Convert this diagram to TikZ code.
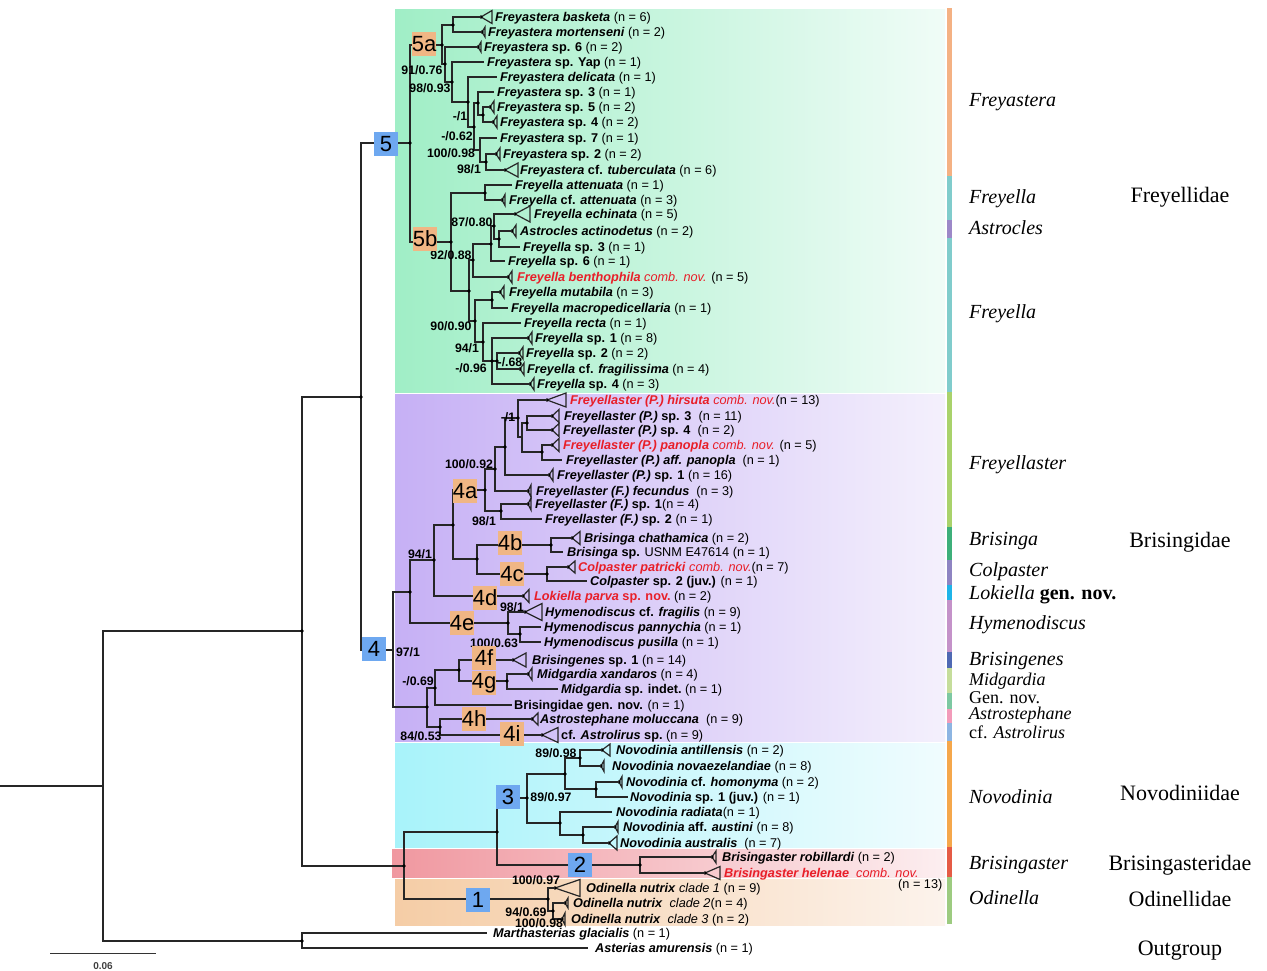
\documentclass[tikz,border=0pt]{standalone}
\usepackage{fontspec}
\setmainfont{Liberation Serif}
\setsansfont{Liberation Sans}

\newcommand{\spn}[1]{\textbf{\textit{#1}}}
\newcommand{\ncnt}[1]{(n = #1)}
% collapsed clade: triangle with a dot at its apex
\newcommand{\colltri}[3]{%
  \draw[branch] (#1) -- ++(#2,-#3/2) -- ++(0,#3) -- cycle;
  \fill (#1) circle (1.8pt);}

\begin{document}
\begin{tikzpicture}[x=1pt,y=-1pt,
    branch/.style={line width=1.2pt, black!85},
    tiplbl/.style={anchor=west, inner sep=0pt, text height=9pt, text depth=0pt, font=\sffamily\fontsize{12.7}{13}\selectfont},
    support/.style={inner sep=0pt, font=\sffamily\bfseries\fontsize{12.3}{13}\selectfont},
    cladebox/.style={minimum width=24pt, minimum height=24pt, inner sep=0pt, font=\sffamily\fontsize{22}{22}\selectfont},
    genlbl/.style={anchor=west, inner sep=0pt, text height=13pt, text depth=0pt, font=\fontsize{20}{20}\selectfont\itshape},
    gensmall/.style={genlbl, text height=12pt, font=\fontsize{18}{18}\selectfont\itshape},
    famlbl/.style={inner sep=0pt, text height=14pt, text depth=0pt, font=\fontsize{22}{22}\selectfont}]

    \definecolor{nred}{RGB}{232,30,40}
    \definecolor{boxblue}{RGB}{110,168,240}
    \definecolor{boxorange}{RGB}{240,182,132}
    % band colours
    \definecolor{greenl}{RGB}{160,238,198}  \definecolor{greenr}{RGB}{240,252,247}
    \definecolor{purpl}{RGB}{198,176,245}   \definecolor{purpr}{RGB}{244,240,252}
    \definecolor{cyanl}{RGB}{168,243,250}   \definecolor{cyanr}{RGB}{240,252,254}
    \definecolor{pinkl}{RGB}{240,152,160}   \definecolor{pinkr}{RGB}{252,238,240}
    \definecolor{peachl}{RGB}{245,205,166}  \definecolor{peachr}{RGB}{252,243,236}
    % genus bar colours
    \definecolor{cfreyas}{RGB}{244,177,131}
    \definecolor{cfreyel}{RGB}{128,204,204}
    \definecolor{castroc}{RGB}{156,136,200}
    \definecolor{cfreyla}{RGB}{169,210,107}
    \definecolor{cbrisin}{RGB}{61,175,122}
    \definecolor{ccolpa}{RGB}{142,132,194}
    \definecolor{cloki}{RGB}{31,180,232}
    \definecolor{chymen}{RGB}{196,146,201}
    \definecolor{cbrgen}{RGB}{79,105,179}
    \definecolor{cmidg}{RGB}{197,221,155}
    \definecolor{cgennov}{RGB}{125,200,162}
    \definecolor{castrost}{RGB}{242,155,186}
    \definecolor{castrol}{RGB}{141,181,226}
    \definecolor{cnovod}{RGB}{245,167,75}
    \definecolor{cbrgast}{RGB}{229,91,69}
    \definecolor{codin}{RGB}{157,203,128}

    \useasboundingbox (0,0) rectangle (1267,971);
    \fill[white] (0,0) rectangle (1267,971);

    % Draw the coloured clade bands
    \shade[left color=greenl, right color=greenr] (395,10) rectangle (945,392);
    \shade[left color=purpl, right color=purpr] (395,394) rectangle (945,741);
    \shade[left color=cyanl, right color=cyanr] (395,743) rectangle (945,847);
    \shade[left color=pinkl, right color=pinkr] (392,849) rectangle (945,877);
    \shade[left color=peachl, right color=peachr] (395,879) rectangle (945,925);

    % Draw the genus bar
    \fill[cfreyas] (947,8) rectangle (952,176);
    \fill[cfreyel] (947,176) rectangle (952,220);
    \fill[castroc] (947,220) rectangle (952,238);
    \fill[cfreyel] (947,238) rectangle (952,392);
    \fill[cfreyla] (947,392) rectangle (952,527);
    \fill[cbrisin] (947,527) rectangle (952,560);
    \fill[ccolpa] (947,560) rectangle (952,585);
    \fill[cloki] (947,585) rectangle (952,600);
    \fill[chymen] (947,600) rectangle (952,652);
    \fill[cbrgen] (947,652) rectangle (952,668);
    \fill[cmidg] (947,668) rectangle (952,693);
    \fill[cgennov] (947,693) rectangle (952,709);
    \fill[castrost] (947,709) rectangle (952,723);
    \fill[castrol] (947,723) rectangle (952,741);
    \fill[cnovod] (947,741) rectangle (952,847);
    \fill[cbrgast] (947,847) rectangle (952,877);
    \fill[codin] (947,877) rectangle (952,924);

    % Draw the tips of Freyastera
    \coordinate (t1) at (481,17); \colltri{t1}{11}{13} \node[tiplbl] (t1l) at (495,17) {\spn{Freyastera basketa}\ \ncnt{6}};
    \coordinate (t2) at (482,32); \colltri{t2}{3}{10} \node[tiplbl] (t2l) at (488,32) {\spn{Freyastera mortenseni}\ \ncnt{2}};
    \coordinate (t3) at (478,47); \colltri{t3}{3}{10} \node[tiplbl] (t3l) at (484,47) {\spn{Freyastera} \textbf{sp. 6}\ \ncnt{2}};
    \coordinate (t4) at (484,62); \node[tiplbl] (t4l) at (487,62) {\spn{Freyastera} \textbf{sp. Yap}\ \ncnt{1}};
    \coordinate (t5) at (497,77); \node[tiplbl] (t5l) at (500,77) {\spn{Freyastera delicata}\ \ncnt{1}};
    \coordinate (t6) at (494,92); \node[tiplbl] (t6l) at (497,92) {\spn{Freyastera} \textbf{sp. 3}\ \ncnt{1}};
    \coordinate (t7) at (490,107); \colltri{t7}{4}{12} \node[tiplbl] (t7l) at (497,107) {\spn{Freyastera} \textbf{sp. 5}\ \ncnt{2}};
    \coordinate (t8) at (493,122); \colltri{t8}{4}{12} \node[tiplbl] (t8l) at (500,122) {\spn{Freyastera} \textbf{sp. 4} \ncnt{2}};
    \coordinate (t9) at (497,138); \node[tiplbl] (t9l) at (500,138) {\spn{Freyastera} \textbf{sp. 7}\ \ncnt{1}};
    \coordinate (t10) at (496,154); \colltri{t10}{4}{12} \node[tiplbl] (t10l) at (503,154) {\spn{Freyastera} \textbf{sp. 2}\ \ncnt{2}};
    \coordinate (t11) at (505,170); \colltri{t11}{13}{14} \node[tiplbl] (t11l) at (520,170) {\spn{Freyastera} \textbf{cf.} \spn{tuberculata}\ \ncnt{6}};

    % Draw the tips of Freyella and Astrocles
    \coordinate (t12) at (512,185); \node[tiplbl] (t12l) at (515,185) {\spn{Freyella attenuata} \ncnt{1}};
    \coordinate (t13) at (502,200); \colltri{t13}{3}{11} \node[tiplbl] (t13l) at (509,200) {\spn{Freyella} \textbf{cf.} \spn{attenuata}\ \ncnt{3}};
    \coordinate (t14) at (515,214); \colltri{t14}{15}{16} \node[tiplbl] (t14l) at (534,214) {\spn{Freyella echinata}\ \ncnt{5}};
    \coordinate (t15) at (512,231); \colltri{t15}{4}{12} \node[tiplbl] (t15l) at (520,231) {\spn{Astrocles actinodetus}\ \ncnt{2}};
    \coordinate (t16) at (520,247); \node[tiplbl] (t16l) at (523,247) {\spn{Freyella} \textbf{sp. 3}\ \ncnt{1}};
    \coordinate (t17) at (505,261); \node[tiplbl] (t17l) at (508,261) {\spn{Freyella} \textbf{sp. 6} \ncnt{1}};
    \coordinate (t18) at (508,277); \colltri{t18}{4}{12} \node[tiplbl] (t18l) at (517,277) {\textcolor{nred}{\spn{Freyella benthophila} \textit{comb. nov.}} \ncnt{5}};
    \coordinate (t19) at (500,292); \colltri{t19}{4}{12} \node[tiplbl] (t19l) at (509,292) {\spn{Freyella mutabila} \ncnt{3}};
    \coordinate (t20) at (508,308); \node[tiplbl] (t20l) at (511,308) {\spn{Freyella macropedicellaria} \ncnt{1}};
    \coordinate (t21) at (521,323); \node[tiplbl] (t21l) at (524,323) {\spn{Freyella recta} \ncnt{1}};
    \coordinate (t22) at (528,338); \colltri{t22}{4}{12} \node[tiplbl] (t22l) at (535,338) {\spn{Freyella} \textbf{sp. 1} \ncnt{8}};
    \coordinate (t23) at (519,353); \colltri{t23}{4}{12} \node[tiplbl] (t23l) at (526,353) {\spn{Freyella} \textbf{sp. 2} \ncnt{2}};
    \coordinate (t24) at (520,369); \colltri{t24}{4}{12} \node[tiplbl] (t24l) at (527,369) {\spn{Freyella} \textbf{cf.} \spn{fragilissima} \ncnt{4}};
    \coordinate (t25) at (530,384); \colltri{t25}{4}{12} \node[tiplbl] (t25l) at (537,384) {\spn{Freyella} \textbf{sp. 4} \ncnt{3}};

    % Draw the tips of Brisingidae
    \coordinate (t26) at (547,400); \colltri{t26}{19}{14} \node[tiplbl] (t26l) at (570,400) {\textcolor{nred}{\spn{Freyellaster (P.) hirsuta} \textit{comb. nov.}}\ncnt{13}};
    \coordinate (t27) at (552,416); \colltri{t27}{7}{13} \node[tiplbl] (t27l) at (564,416) {\spn{Freyellaster (P.)} \textbf{sp. 3}\ \ \ncnt{11}};
    \coordinate (t28) at (552,430); \colltri{t28}{7}{13} \node[tiplbl] (t28l) at (563,430) {\spn{Freyellaster (P.)} \textbf{sp. 4}\ \ \ncnt{2}};
    \coordinate (t29) at (552,445); \colltri{t29}{7}{13} \node[tiplbl] (t29l) at (563,445) {\textcolor{nred}{\spn{Freyellaster (P.) panopla} \textit{comb. nov.}} \ncnt{5}};
    \coordinate (t30) at (562,460); \node[tiplbl] (t30l) at (566,460) {\spn{Freyellaster (P.) aff. panopla}\ \ \ncnt{1}};
    \coordinate (t31) at (549,475); \colltri{t31}{4}{12} \node[tiplbl] (t31l) at (557,475) {\spn{Freyellaster (P.)} \textbf{sp. 1} \ncnt{16}};
    \coordinate (t32) at (528,491); \colltri{t32}{3}{12} \node[tiplbl] (t32l) at (536,491) {\spn{Freyellaster (F.) fecundus}\ \ \ncnt{3}};
    \coordinate (t33) at (528,504); \colltri{t33}{3}{12} \node[tiplbl] (t33l) at (535,504) {\spn{Freyellaster (F.)} \textbf{sp. 1}\ncnt{4}};
    \coordinate (t34) at (542,519); \node[tiplbl] (t34l) at (545,519) {\spn{Freyellaster (F.)} \textbf{sp. 2} \ncnt{1}};
    \coordinate (t35) at (572,538); \colltri{t35}{8}{13} \node[tiplbl] (t35l) at (584,538) {\spn{Brisinga chathamica}\ \ncnt{2}};
    \coordinate (t36) at (563,552); \node[tiplbl] (t36l) at (567,552) {\spn{Brisinga} \textbf{sp.} USNM E47614 \ncnt{1}};
    \coordinate (t37) at (568,567); \colltri{t37}{7}{12} \node[tiplbl] (t37l) at (578,567) {\textcolor{nred}{\spn{Colpaster patricki} \textit{comb. nov.}}\ncnt{7}};
    \coordinate (t38) at (587,581); \node[tiplbl] (t38l) at (590,581) {\spn{Colpaster} \textbf{sp. 2 (juv.)} \ncnt{1}};
    \coordinate (t39) at (523,596); \colltri{t39}{6}{13} \node[tiplbl] (t39l) at (534,596) {\textcolor{nred}{\spn{Lokiella parva} \textbf{sp. nov.}}\ \ncnt{2}};
    \coordinate (t40) at (525,612); \colltri{t40}{17}{17} \node[tiplbl] (t40l) at (545,612) {\spn{Hymenodiscus} \textbf{cf.} \spn{fragilis} \ncnt{9}};
    \coordinate (t41) at (541,627); \node[tiplbl] (t41l) at (544,627) {\spn{Hymenodiscus pannychia} \ncnt{1}};
    \coordinate (t42) at (541,642); \node[tiplbl] (t42l) at (544,642) {\spn{Hymenodiscus pusilla} \ncnt{1}};
    \coordinate (t43) at (513,660); \colltri{t43}{13}{14} \node[tiplbl] (t43l) at (532,660) {\spn{Brisingenes} \textbf{sp. 1}\ \ncnt{14}};
    \coordinate (t44) at (528,674); \colltri{t44}{4}{12} \node[tiplbl] (t44l) at (537,674) {\spn{Midgardia xandaros} \ncnt{4}};
    \coordinate (t45) at (558,689); \node[tiplbl] (t45l) at (561,689) {\spn{Midgardia} \textbf{sp. indet.}\ \ncnt{1}};
    \coordinate (t46) at (512,705); \node[tiplbl] (t46l) at (514,705) {\textbf{Brisingidae gen. nov.} \ncnt{1}};
    \coordinate (t47) at (532,719); \colltri{t47}{6}{12} \node[tiplbl] (t47l) at (540,719) {\spn{Astrostephane moluccana}\ \ \ncnt{9}};
    \coordinate (t48) at (542,735); \colltri{t48}{16}{15} \node[tiplbl] (t48l) at (561,735) {\textbf{cf.} \spn{Astrolirus} \textbf{sp.}\ \ncnt{9}};

    % Draw the tips of Novodinia, Brisingaster and Odinella
    \coordinate (t49) at (602,750); \colltri{t49}{8}{12} \node[tiplbl] (t49l) at (616,750) {\spn{Novodinia antillensis}\ \ncnt{2}};
    \coordinate (t50) at (601,766); \colltri{t50}{3}{11} \node[tiplbl] (t50l) at (612,766) {\spn{Novodinia novaezelandiae} \ncnt{8}};
    \coordinate (t51) at (619,782); \colltri{t51}{3}{11} \node[tiplbl] (t51l) at (626,782) {\spn{Novodinia} \textbf{cf.} \spn{homonyma}\ \ncnt{2}};
    \coordinate (t52) at (628,797); \node[tiplbl] (t52l) at (630,797) {\spn{Novodinia} \textbf{sp. 1 (juv.)} \ncnt{1}};
    \coordinate (t53) at (612,812); \node[tiplbl] (t53l) at (616,812) {\spn{Novodinia radiata}\ncnt{1}};
    \coordinate (t54) at (615,827); \colltri{t54}{3}{11} \node[tiplbl] (t54l) at (623,827) {\spn{Novodinia} \textbf{aff.} \spn{austini} \ncnt{8}};
    \coordinate (t55) at (609,843); \colltri{t55}{8}{14} \node[tiplbl] (t55l) at (620,843) {\spn{Novodinia australis}\ \ \ncnt{7}};
    \coordinate (t56) at (712,857); \colltri{t56}{4}{12} \node[tiplbl] (t56l) at (722,857) {\spn{Brisingaster robillardi}\ \ncnt{2}};
    \coordinate (t57) at (705,873); \colltri{t57}{15}{13} \node[tiplbl] (t57l) at (724,873) {\textcolor{nred}{\spn{Brisingaster helenae}\ \ \textit{comb. nov.}}};
    \node[tiplbl] (t57n) at (898,884) {\ncnt{13}};
    \coordinate (t58) at (555,888); \colltri{t58}{25}{17} \node[tiplbl] (t58l) at (586,888) {\spn{Odinella nutrix} \textit{clade 1} \ncnt{9}};
    \coordinate (t59) at (565,903); \colltri{t59}{3}{10} \node[tiplbl] (t59l) at (573,903) {\spn{Odinella nutrix}\ \ \textit{clade 2}\ncnt{4}};
    \coordinate (t60) at (562,919); \colltri{t60}{3}{12} \node[tiplbl] (t60l) at (571,919) {\spn{Odinella nutrix}\ \ \textit{clade 3} \ncnt{2}};
    \coordinate (t61) at (487,933); \node[tiplbl] (t61l) at (493,933) {\spn{Marthasterias glacialis} \ncnt{1}};
    \coordinate (t62) at (588,948); \node[tiplbl] (t62l) at (595,948) {\spn{Asterias amurensis}\ \ncnt{1}};

    % Internal nodes
    \coordinate (nbm) at (453,25);  \coordinate (nf2) at (483,115); \coordinate (nf) at (478,103);
    \coordinate (nh) at (486,162);  \coordinate (ng) at (480,150);  \coordinate (ne) at (474,127);
    \coordinate (nd) at (468,102);  \coordinate (nc) at (452,82);   \coordinate (nb) at (445,64);
    \coordinate (n5a) at (442,45);
    \coordinate (natt) at (485,193); \coordinate (nast) at (499,239); \coordinate (nech) at (494,226);
    \coordinate (nsix) at (491,244); \coordinate (nben) at (473,260); \coordinate (nmut) at (492,300);
    \coordinate (nfra) at (497,361); \coordinate (nsp) at (492,361);  \coordinate (nrec) at (483,342);
    \coordinate (nmac) at (475,321); \coordinate (nfb) at (469,291);  \coordinate (n5b) at (451,242);
    \coordinate (n5) at (410,143);
    \coordinate (np) at (527,423);  \coordinate (nq) at (542,452);  \coordinate (nr2) at (522,437);
    \coordinate (nr) at (518,418);  \coordinate (ns) at (505,447);  \coordinate (nt) at (495,469);
    \coordinate (nu) at (501,511);  \coordinate (n4a) at (485,490); \coordinate (nv) at (551,545);
    \coordinate (nw) at (547,574);  \coordinate (nn) at (477,559);  \coordinate (nl) at (453,525);
    \coordinate (nk) at (434,560);  \coordinate (ny) at (520,634);  \coordinate (nx) at (508,623);
    \coordinate (nk0) at (410,592); \coordinate (nmid) at (507,681); \coordinate (nz3) at (459,670);
    \coordinate (nz1) at (435,688); \coordinate (nz2) at (440,727); \coordinate (nz) at (427,707);
    \coordinate (n4) at (393,650);
    \coordinate (na3) at (580,758); \coordinate (nh3) at (596,789); \coordinate (nb3) at (565,774);
    \coordinate (nf3) at (583,835); \coordinate (nc3) at (560,823); \coordinate (n3) at (527,798);
    \coordinate (nbg) at (640,865); \coordinate (n23) at (497,832); \coordinate (no2) at (553,911);
    \coordinate (no) at (548,899);  \coordinate (n123) at (404,866);
    \coordinate (nout) at (302,941); \coordinate (n45) at (361,397); \coordinate (nr1) at (302,631);
    \coordinate (nroot) at (103,786); \coordinate (stem) at (0,786);

    % Draw the branches
    \foreach \p/\c in {nbm/t1, nbm/t2, nf2/t7, nf2/t8, nf/t6, nf/nf2, nh/t10, nh/t11, ng/t9, ng/nh,
        ne/nf, ne/ng, nd/t5, nd/ne, nc/t4, nc/nd, nb/t3, nb/nc, n5a/nbm, n5a/nb,
        natt/t12, natt/t13, nast/t15, nast/t16, nech/t14, nech/nast, nsix/nech, nsix/t17,
        nben/nsix, nben/t18, nmut/t19, nmut/t20, nfra/t23, nfra/t24, nsp/t22, nsp/nfra, nsp/t25,
        nrec/t21, nrec/nsp, nmac/nmut, nmac/nrec, nfb/nben, nfb/nmac, n5b/natt, n5b/nfb,
        n5/n5a, n5/n5b,
        np/t27, np/t28, nq/t29, nq/t30, nr2/np, nr2/nq, nr/t26, nr/nr2, ns/nr, ns/t31,
        nt/ns, nt/t32, nu/t33, nu/t34, n4a/nt, n4a/nu, nv/t35, nv/t36, nw/t37, nw/t38,
        nn/nv, nn/nw, nl/n4a, nl/nn, nk/nl, nk/t39, ny/t41, ny/t42, nx/t40, nx/ny,
        nk0/nk, nk0/nx, nmid/t44, nmid/t45, nz3/t43, nz3/nmid, nz1/nz3, nz1/t46,
        nz2/t47, nz2/t48, nz/nz1, nz/nz2, n4/nk0, n4/nz,
        na3/t49, na3/t50, nh3/t51, nh3/t52, nb3/na3, nb3/nh3, nf3/t54, nf3/t55,
        nc3/t53, nc3/nf3, n3/nb3, n3/nc3, nbg/t56, nbg/t57, n23/n3, n23/nbg,
        no2/t59, no2/t60, no/t58, no/no2, n123/n23, n123/no,
        nout/t61, nout/t62, n45/n5, n45/n4, nr1/n45, nr1/n123, nroot/nr1, nroot/nout}
        \draw[branch] (\p) |- (\c);
    \draw[branch] (stem) -- (nroot);

    % Draw the node dots
    \foreach \n in {nbm, nf2, nf, nh, ne, nd, nc, nb, n5a, natt, nast, nech, nsix, nben, nmut,
        nfra, nsp, nrec, nmac, nfb, n5b, n5, np, nq, nr, ns, nt, nu, n4a, nv, nw, nn, nl, nk,
        ny, nx, nk0, nmid, nz3, nz1, nz2, nz, na3, nh3, nb3, nf3, nc3, n3, nbg, n23, no2, no,
        n123, nout, n45, nr1}
        \fill (\n) circle (1.8pt);

    % Draw the support values
    \node[support] (s1) at (422,70) {91/0.76};
    \node[support] (s2) at (430,88) {98/0.93};
    \node[support] (s3) at (460,116) {-/1};
    \node[support] (s4) at (457,136) {-/0.62};
    \node[support] (s5) at (451,153) {100/0.98};
    \node[support] (s6) at (469,169) {98/1};
    \node[support] (s7) at (472,222) {87/0.80};
    \node[support] (s8) at (451,255) {92/0.88};
    \node[support] (s9) at (451,326) {90/0.90};
    \node[support] (s10) at (467,348) {94/1};
    \node[support] (s11) at (471,368) {-/0.96};
    \node[support] (s12) at (510,362) {-/.68};
    \node[support] (s13) at (508,417) {-/1};
    \node[support] (s14) at (469,464) {100/0.92};
    \node[support] (s15) at (484,521) {98/1};
    \node[support] (s16) at (420,554) {94/1};
    \node[support] (s17) at (408,652) {97/1};
    \node[support] (s18) at (512,607) {98/1};
    \node[support] (s19) at (494,643) {100/0.63};
    \node[support] (s20) at (418,681) {-/0.69};
    \node[support] (s21) at (421,736) {84/0.53};
    \node[support] (s22) at (556,753) {89/0.98};
    \node[support] (s23) at (551,797) {89/0.97};
    \node[support] (s24) at (536,880) {100/0.97};
    \node[support] (s25) at (526,912) {94/0.69};
    \node[support] (s26) at (539,923) {100/0.98};

    % Draw the numbered clade boxes
    \node[cladebox, fill=boxblue] (b5) at (386,144) {5};
    \node[cladebox, fill=boxblue] (b4) at (374,649) {4};
    \node[cladebox, fill=boxblue] (b3) at (508,797) {3};
    \node[cladebox, fill=boxblue] (b2) at (580,865) {2};
    \node[cladebox, fill=boxblue] (b1) at (478,900) {1};
    \node[cladebox, fill=boxorange] (b5a) at (424,44) {5a};
    \node[cladebox, fill=boxorange] (b5b) at (425,239) {5b};
    \node[cladebox, fill=boxorange] (b4a) at (465,491) {4a};
    \node[cladebox, fill=boxorange] (b4b) at (510,543) {4b};
    \node[cladebox, fill=boxorange] (b4c) at (512,574) {4c};
    \node[cladebox, fill=boxorange] (b4d) at (485,598) {4d};
    \node[cladebox, fill=boxorange] (b4e) at (462,623) {4e};
    \node[cladebox, fill=boxorange] (b4f) at (484,658) {4f};
    \node[cladebox, fill=boxorange] (b4g) at (484,683) {4g};
    \node[cladebox, fill=boxorange] (b4h) at (474,719) {4h};
    \node[cladebox, fill=boxorange] (b4i) at (512,734) {4i};

    % Draw the genus names
    \node[genlbl] (g1) at (969,100) {Freyastera};
    \node[genlbl] (g2) at (969,197) {Freyella};
    \node[genlbl] (g3) at (969,228) {Astrocles};
    \node[genlbl] (g4) at (969,312) {Freyella};
    \node[genlbl] (g5) at (969,463) {Freyellaster};
    \node[genlbl] (g6) at (969,539) {Brisinga};
    \node[genlbl] (g7) at (969,570) {Colpaster};
    \node[genlbl] (g8) at (969,593) {Lokiella \textbf{\upshape gen. nov.}};
    \node[genlbl] (g9) at (969,623) {Hymenodiscus};
    \node[genlbl] (g10) at (969,659) {Brisingenes};
    \node[gensmall] (g11) at (969,679) {Midgardia};
    \node[gensmall] (g12) at (969,697) {\upshape Gen. nov.};
    \node[gensmall] (g13) at (969,713) {Astrostephane};
    \node[gensmall] (g14) at (969,732) {{\upshape cf.} Astrolirus};
    \node[genlbl] (g15) at (969,797) {Novodinia};
    \node[genlbl] (g16) at (969,863) {Brisingaster};
    \node[genlbl] (g17) at (969,898) {Odinella};

    % Draw the family names
    \node[famlbl] (f1) at (1180,195) {Freyellidae};
    \node[famlbl] (f2) at (1180,540) {Brisingidae};
    \node[famlbl] (f3) at (1180,793) {Novodiniidae};
    \node[famlbl] (f4) at (1180,863) {Brisingasteridae};
    \node[famlbl] (f5) at (1180,899) {Odinellidae};
    \node[famlbl] (f6) at (1180,948) {Outgroup};

    % Draw the scale bar
    \coordinate (sbl) at (50,953);
    \coordinate (sbr) at (156,953);
    \draw[line width=1pt, black!80] (sbl) -- (sbr);
    \node[inner sep=0pt, font=\sffamily\bfseries\fontsize{10}{10}\selectfont, black!75] (sblbl) at (103,966) {0.06};

\end{tikzpicture}
\end{document}
